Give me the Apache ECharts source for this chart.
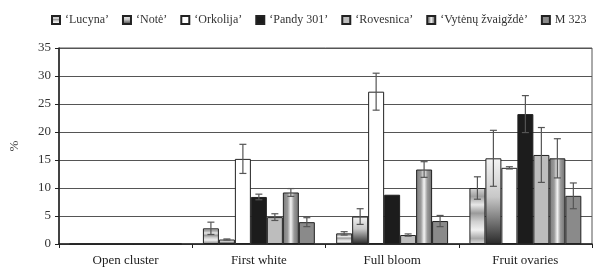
<!DOCTYPE html>
<html>
<head>
<meta charset="utf-8">
<script src="https://cdn.jsdelivr.net/npm/echarts@6/dist/echarts.min.js"></script>
<style>
  html, body { margin: 0; padding: 0; background: #fff; }
  #main { width: 595px; height: 273px; }
</style>
</head>
<body>
<div id="main"></div>
<script>
// 数据
var categories = ['Open cluster', 'First white', 'Full bloom', 'Fruit ovaries'];
var varieties = ['‘Lucyna’', '‘Notė’', '‘Orkolija’', '‘Pandy 301’', '‘Rovesnica’', '‘Vytėnų žvaigždė’', 'M 323'];

var lucyna     = [0, 2.8, 1.9, 10.0];
var note       = [0, 0.8, 4.9, 15.3];
var orkolija   = [0, 15.2, 27.2, 13.6];
var pandy      = [0, 8.4, 8.8, 23.2];
var rovesnica  = [0, 4.8, 1.6, 15.9];
var vytenu     = [0, 9.2, 13.3, 15.3];
var m323       = [0, 3.9, 4.1, 8.6];

var lucynaErr    = [0, 1.1, 0.3, 2.0];
var noteErr      = [0, 0.1, 1.4, 5.0];
var orkolijaErr  = [0, 2.6, 3.3, 0.2];
var pandyErr     = [0, 0.5, 0, 3.3];
var rovesnicaErr = [0, 0.6, 0.2, 4.9];
var vytenuErr    = [0, 0.7, 1.4, 3.5];
var m323Err      = [0, 0.8, 1.0, 2.3];

var values = [lucyna, note, orkolija, pandy, rovesnica, vytenu, m323];
var errors = [lucynaErr, noteErr, orkolijaErr, pandyErr, rovesnicaErr, vytenuErr, m323Err];

var yTicks = [0, 5, 10, 15, 20, 25, 30, 35];

var fills = [
  new echarts.graphic.LinearGradient(0, 0, 0, 1, [
    { offset: 0, color: '#d8d8d8' }, { offset: 0.15, color: '#a0a0a0' },
    { offset: 0.3, color: '#e8e8e8' }, { offset: 0.45, color: '#9a9a9a' },
    { offset: 0.6, color: '#d0d0d0' }, { offset: 0.75, color: '#f0f0f0' },
    { offset: 0.9, color: '#a8a8a8' }, { offset: 1, color: '#e0e0e0' }
  ]),
  new echarts.graphic.LinearGradient(0, 0, 0, 1, [
    { offset: 0, color: '#f4f4f4' }, { offset: 0.45, color: '#c8c8c8' },
    { offset: 1, color: '#2a2a2a' }
  ]),
  '#ffffff',
  '#1c1c1c',
  '#bdbdbd',
  new echarts.graphic.LinearGradient(0, 0, 1, 0, [
    { offset: 0, color: '#7a7a7a' }, { offset: 0.3, color: '#9a9a9a' },
    { offset: 0.5, color: '#f4f4f4' }, { offset: 0.7, color: '#9a9a9a' },
    { offset: 1, color: '#6e6e6e' }
  ]),
  '#8a8a8a'
];

var catGap = 0.16;
var serif = 'Liberation Serif, Times New Roman, serif';

var series = varieties.map(function (name, i) {
  return {
    name: name,
    type: 'bar',
    data: values[i],
    barGap: '0%',
    barCategoryGap: (catGap * 100) + '%',
    itemStyle: { color: fills[i], borderColor: '#222', borderWidth: 1 }
  };
});

// 误差线
var errData = [];
values.forEach(function (vals, s) {
  vals.forEach(function (v, c) {
    if (errors[s][c] > 0) errData.push([c, s, v, errors[s][c]]);
  });
});

series.push({
  type: 'custom',
  name: 'err',
  silent: true,
  z: 10,
  data: errData,
  encode: { x: 0, y: 2 },
  renderItem: function (params, api) {
    var c = api.value(0), s = api.value(1), v = api.value(2), e = api.value(3);
    var catW = api.size([1, 0])[0];
    var barW = catW * (1 - catGap) / varieties.length;
    var center = api.coord([c, 0])[0] - catW * (1 - catGap) / 2 + barW * (s + 0.5);
    var hi = api.coord([c, v + e])[1];
    var lo = api.coord([c, Math.max(v - e, 0)])[1];
    var hw = 3.5;
    var st = { stroke: '#555', lineWidth: 1.2 };
    return {
      type: 'group',
      children: [
        { type: 'line', shape: { x1: center, y1: hi, x2: center, y2: lo }, style: st },
        { type: 'line', shape: { x1: center - hw, y1: hi, x2: center + hw, y2: hi }, style: st },
        { type: 'line', shape: { x1: center - hw, y1: lo, x2: center + hw, y2: lo }, style: st }
      ]
    };
  }
});

var myChart = echarts.init(document.getElementById('main'));
myChart.setOption({
  animation: false,
  textStyle: { fontFamily: serif },
  legend: {
    data: varieties,
    top: 9,
    left: 46,
    itemWidth: 8,
    itemHeight: 8,
    itemGap: 13,
    icon: 'rect',
    textStyle: { fontFamily: serif, fontSize: 12, color: '#333' }
  },
  grid: {
    left: 58, right: 3, top: 48, bottom: 29,
    show: true, borderColor: '#555', borderWidth: 1
  },
  xAxis: {
    type: 'category',
    data: categories,
    axisLine: { lineStyle: { color: '#222', width: 1.5 } },
    axisTick: { show: true, length: 4, lineStyle: { color: '#222' } },
    axisLabel: { fontFamily: serif, fontSize: 13, color: '#222', margin: 10 }
  },
  yAxis: {
    type: 'value',
    min: yTicks[0],
    max: yTicks[yTicks.length - 1],
    interval: 5,
    name: '%',
    nameLocation: 'middle',
    nameGap: 38,
    nameTextStyle: { fontFamily: serif, fontSize: 13, color: '#444' },
    axisLine: { show: true, lineStyle: { color: '#222', width: 1.5 } },
    axisTick: { show: true, length: 4, lineStyle: { color: '#222' } },
    axisLabel: { fontFamily: serif, fontSize: 13, color: '#333', margin: 8 },
    splitLine: { lineStyle: { color: '#555', width: 1.2 } }
  },
  series: series
});
</script>
</body>
</html>
